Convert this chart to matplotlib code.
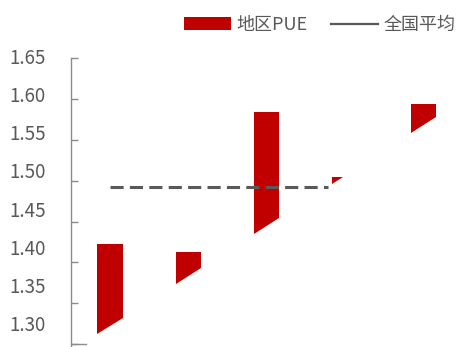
import matplotlib
matplotlib.use("Agg")
import matplotlib.pyplot as plt
from matplotlib.patches import Patch
from matplotlib.lines import Line2D

plt.rcParams['font.family'] = ['Noto Sans CJK SC', 'DejaVu Sans']

# PUE range per region (top / bottom of each floating bar) and the national average
regions = ["A", "B", "C", "D", "E"]
pue_high = [1.423, 1.413, 1.584, 1.504, 1.594]
pue_low = [1.312, 1.373, 1.435, 1.496, 1.558]
national_avg = 1.4925
yticks = [1.30, 1.35, 1.40, 1.45, 1.50, 1.55, 1.60, 1.65]
ytick_labels = ["1.30", "1.35", "1.40", "1.45", "1.50", "1.55", "1.60", "1.65"]

RED = "#C00000"
GREY = "#595959"
AXIS = "#8C8C8C"

fig = plt.figure(figsize=(4.62, 3.47), dpi=100)
ax = fig.add_axes([70.7 / 462, 0.0, 392 / 462, 288.7 / 347])

bar_w = 0.323
bevel = 0.0196  # drop of the slanted bottom edge across one bar

for i, (top, bot) in enumerate(zip(pue_high, pue_low)):
    xl, xr = i - bar_w / 2, i + bar_w / 2
    if top - bot >= bevel:
        xs = [xl, xl, xr, xr]
        ys = [bot, top, top, bot + bevel]
    else:
        x_cut = xl + bar_w * (top - bot) / bevel
        xs = [xl, xl, x_cut]
        ys = [bot, top, top]
    ax.fill(xs, ys, color=RED, lw=0)

avg_line, = ax.plot([0, 2.78], [national_avg, national_avg], color=GREY, lw=2.2)
avg_line.set_dashes((4.3, 2.05))

ax.set_xlim(-0.5, 4.5)
ax.set_ylim(1.30 - 3 * 0.0012252, 1.65)
ax.set_xticks([])
ax.set_yticks(yticks)
ax.set_yticklabels([])
ax.tick_params(axis="y", direction="in", length=4.7, width=1, color=AXIS)

for side in ["top", "right", "bottom"]:
    ax.spines[side].set_visible(False)
ax.spines["left"].set_color(AXIS)
ax.spines["left"].set_linewidth(1)

# short stub of the category axis at the bottom
ax.axhline(1.30, xmin=0, xmax=15.3 / 392, color=AXIS, lw=1)

# value labels sit on a slightly tighter spacing than the tick marks
for v, lab in zip(yticks, ytick_labels):
    ypos = 1.65 - (1.65 - v) * 0.936
    ax.text(-0.0635, ypos, lab, transform=ax.get_yaxis_transform(),
            ha="right", va="center", fontsize=13.5, color=GREY)

handles = [Patch(facecolor=RED, edgecolor="none"),
           Line2D([], [], color=GREY, lw=1.6)]
fig.legend(handles, ["地区PUE", "全国平均"], ncol=2, frameon=False,
           loc="center left", bbox_to_anchor=(184.3 / 462, 1 - 25 / 347),
           fontsize=13, handlelength=2.6, handletextpad=0.3,
           columnspacing=1.3, borderpad=0, borderaxespad=0,
           labelcolor=GREY)

fig.savefig("out.png", dpi=100)
